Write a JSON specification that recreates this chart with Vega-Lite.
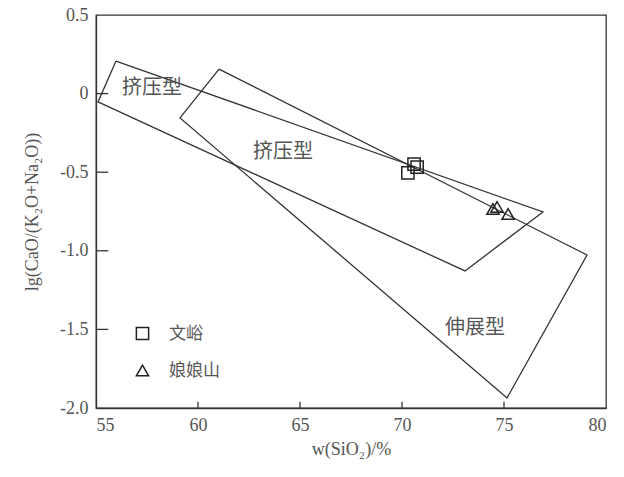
{
  "$schema": "https://vega.github.io/schema/vega-lite/v6.json",
  "width": 510,
  "height": 393,
  "autosize": {"type": "none"},
  "padding": {"left": 96, "top": 15, "right": 18, "bottom": 69},
  "background": "white",
  "config": {
    "view": {"stroke": "#333", "strokeWidth": 1.3},
    "axis": {"grid": false, "ticks": false, "domainColor": "#333", "domainWidth": 1.3,
      "labelFont": "Liberation Serif", "labelFontSize": 18, "labelColor": "#555",
      "titleFont": "Liberation Serif", "titleFontSize": 18, "titleColor": "#555", "titleFontWeight": "normal"}
  },
  "datasets": {
    "poly": [
      {"poly": "A", "ord": 1, "x": 55.98, "y": 0.207},
      {"poly": "A", "ord": 2, "x": 76.91, "y": -0.753},
      {"poly": "A", "ord": 3, "x": 73.09, "y": -1.128},
      {"poly": "A", "ord": 4, "x": 55.1, "y": -0.053},
      {"poly": "A", "ord": 5, "x": 55.98, "y": 0.207},
      {"poly": "B", "ord": 1, "x": 61.03, "y": 0.156},
      {"poly": "B", "ord": 2, "x": 79.07, "y": -1.027},
      {"poly": "B", "ord": 3, "x": 75.15, "y": -1.936},
      {"poly": "B", "ord": 4, "x": 59.12, "y": -0.155},
      {"poly": "B", "ord": 5, "x": 61.03, "y": 0.156}
    ],
    "pts": [
      {"site": "文峪", "x": 70.59, "y": -0.448},
      {"site": "文峪", "x": 70.74, "y": -0.467},
      {"site": "文峪", "x": 70.29, "y": -0.505},
      {"site": "娘娘山", "x": 74.46, "y": -0.734},
      {"site": "娘娘山", "x": 74.66, "y": -0.721},
      {"site": "娘娘山", "x": 75.2, "y": -0.766}
    ],
    "labels": [
      {"text": "挤压型", "x": 57.75, "y": 0.036},
      {"text": "挤压型", "x": 64.17, "y": -0.371},
      {"text": "伸展型", "x": 73.58, "y": -1.491}
    ],
    "yticks": [{"v": 0}, {"v": -0.5}, {"v": -1}, {"v": -1.5}],
    "xticks": [{"v": 60}, {"v": 65}, {"v": 70}, {"v": 75}]
  },
  "layer": [
    {
      "data": {"name": "poly"},
      "mark": {"type": "line", "stroke": "#333", "strokeWidth": 1.3},
      "encoding": {
        "x": {"field": "x", "type": "quantitative", "scale": {"domain": [55, 80], "nice": false, "zero": false},
          "axis": {"values": [55, 60, 65, 70, 75, 80], "labelPadding": 8, "title": "w(SiO₂)/%", "titlePadding": 6}},
        "y": {"field": "y", "type": "quantitative", "scale": {"domain": [-2, 0.5], "nice": false, "zero": false},
          "axis": {"values": [0.5, 0, -0.5, -1, -1.5, -2], "labelPadding": 8,
            "labelExpr": "datum.value == 0 ? '0' : datum.value > 0 ? format(datum.value, '.1f') : '-' + format(abs(datum.value), '.1f')",
            "title": "lg(CaO/(K₂O+Na₂O))", "titlePadding": 18}},
        "detail": {"field": "poly"},
        "order": {"field": "ord", "type": "quantitative"}
      }
    },
    {
      "data": {"name": "yticks"},
      "mark": {"type": "rule", "stroke": "#333", "strokeWidth": 1.3},
      "encoding": {
        "y": {"field": "v", "type": "quantitative"},
        "x": {"datum": 55},
        "x2": {"datum": 55.6}
      }
    },
    {
      "data": {"name": "xticks"},
      "mark": {"type": "rule", "stroke": "#333", "strokeWidth": 1.3},
      "encoding": {
        "x": {"field": "v", "type": "quantitative"},
        "y": {"datum": -2},
        "y2": {"datum": -1.96}
      }
    },
    {
      "data": {"name": "pts"},
      "mark": {"type": "point", "filled": false, "stroke": "#222", "strokeWidth": 1.5, "size": 150, "opacity": 1},
      "encoding": {
        "x": {"field": "x", "type": "quantitative"},
        "y": {"field": "y", "type": "quantitative"},
        "shape": {"field": "site", "type": "nominal",
          "scale": {"domain": ["文峪", "娘娘山"], "range": ["square", "triangle-up"]},
          "legend": {"orient": "none", "legendX": 38, "legendY": 310, "title": null,
            "labelFont": "Noto Sans CJK SC", "labelFontSize": 17, "labelColor": "#555",
            "labelOffset": 18, "rowPadding": 18, "symbolSize": 150, "symbolStrokeWidth": 1.5, "symbolStrokeColor": "#222"}}
      }
    },
    {
      "data": {"name": "labels"},
      "mark": {"type": "text", "font": "Noto Sans CJK SC", "fontSize": 20, "color": "#555", "align": "center", "baseline": "middle"},
      "encoding": {
        "x": {"field": "x", "type": "quantitative"},
        "y": {"field": "y", "type": "quantitative"},
        "text": {"field": "text"}
      }
    }
  ]
}
